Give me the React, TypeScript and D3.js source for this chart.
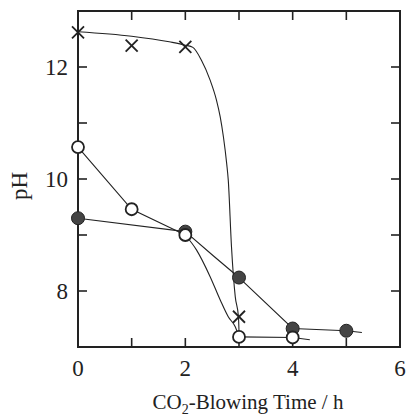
import React from "react";
import * as d3 from "d3";

// Marker data
const crossT = [0, 1, 2, 3];
const crossPH = [12.62, 12.38, 12.36, 7.54];
const openT = [0, 1, 2, 3, 4];
const openPH = [10.57, 9.46, 9.0, 7.18, 7.17];
const filledT = [0, 2, 3, 4, 5];
const filledPH = [9.3, 9.06, 8.24, 7.33, 7.29];

// Fitted guide curves
const crossCurveT = [0, 1, 1.7, 2.0, 2.14, 2.3, 2.46, 2.58, 2.65, 2.71, 2.77, 2.8, 2.86, 2.93, 2.99, 3.0];
const crossCurvePH = [12.63, 12.55, 12.45, 12.39, 12.35, 12.12, 11.77, 11.41, 11.11, 10.75, 10.28, 9.98, 8.79, 7.9, 7.54, 7.28];
const openHeadT = [0, 1, 2];
const openHeadPH = [10.57, 9.46, 9.0];
const openDropT = [2, 2.21, 2.46, 2.65, 2.8, 2.93, 3];
const openDropPH = [9.0, 8.73, 8.26, 7.84, 7.54, 7.36, 7.18];
const openTailT = [3, 4, 4.32];
const openTailPH = [7.18, 7.17, 7.13];
const filledHeadT = [0, 2];
const filledHeadPH = [9.3, 9.06];
const filledMidT = [2, 2.52, 3];
const filledMidPH = [9.06, 8.63, 8.24];
const filledTailT = [3, 4, 5, 5.29];
const filledTailPH = [8.24, 7.33, 7.29, 7.26];

const xTicks = [0, 1, 2, 3, 4, 5, 6];
const xLabels = [0, 2, 4, 6];
const yTicks = [7, 8, 9, 10, 11, 12, 13];
const yLabels = [8, 10, 12];

export default function App() {
  const x = d3.scaleLinear().domain([0, 6]).range([78, 400]);
  const y = d3.scaleLinear().domain([7, 13]).range([347, 11]);
  const smooth = d3
    .line<[number, number]>()
    .x((d) => x(d[0]))
    .y((d) => y(d[1]))
    .curve(d3.curveMonotoneX);
  const straight = d3
    .line<[number, number]>()
    .x((d) => x(d[0]))
    .y((d) => y(d[1]));
  const zip = (a: number[], b: number[]) => a.map((v, i) => [v, b[i]] as [number, number]);
  const font = "'Liberation Serif', 'Times New Roman', serif";
  const tl = 9;
  const [x0, x1] = x.range();
  const [y0, y1] = y.range();
  return (
    <svg width={406} height={417} style={{ position: "absolute", left: 0, top: 0, background: "#fff" }}>
      {/* curves */}
      <g fill="none" stroke="#222" strokeWidth={1.1}>
        <path d={smooth(zip(crossCurveT, crossCurvePH)) || ""} />
        <path d={straight(zip(openHeadT, openHeadPH)) || ""} />
        <path d={smooth(zip(openDropT, openDropPH)) || ""} />
        <path d={straight(zip(openTailT, openTailPH)) || ""} />
        <path d={straight(zip(filledHeadT, filledHeadPH)) || ""} />
        <path d={smooth(zip(filledMidT, filledMidPH)) || ""} />
        <path d={straight(zip(filledTailT, filledTailPH)) || ""} />
      </g>
      {/* ticks */}
      <g stroke="#222" strokeWidth={1.6}>
        {xTicks.slice(1, -1).map((t) => (
          <g key={"xt" + t}>
            <line x1={x(t)} x2={x(t)} y1={y0} y2={y0 - tl} />
            <line x1={x(t)} x2={x(t)} y1={y1} y2={y1 + tl} />
          </g>
        ))}
        {yTicks.slice(1, -1).map((t) => (
          <g key={"yt" + t}>
            <line x1={x0} x2={x0 + tl} y1={y(t)} y2={y(t)} />
            <line x1={x1} x2={x1 - tl} y1={y(t)} y2={y(t)} />
          </g>
        ))}
      </g>
      {/* frame */}
      <rect x={x0} y={y1} width={x1 - x0} height={y0 - y1} fill="none" stroke="#222" strokeWidth={2} />
      {/* markers */}
      <g>
        {filledT.map((t, i) => (
          <circle key={"f" + i} cx={x(t)} cy={y(filledPH[i])} r={6.5} fill="#444" stroke="#222" strokeWidth={1} />
        ))}
        {openT.map((t, i) => (
          <circle key={"o" + i} cx={x(t)} cy={y(openPH[i])} r={6} fill="#fff" stroke="#222" strokeWidth={1.8} />
        ))}
        {crossT.map((t, i) => {
          const cx = x(t);
          const cy = y(crossPH[i]);
          const s = 6;
          return (
            <g key={"c" + i} stroke="#222" strokeWidth={1.8}>
              <line x1={cx - s} y1={cy - s} x2={cx + s} y2={cy + s} />
              <line x1={cx - s} y1={cy + s} x2={cx + s} y2={cy - s} />
            </g>
          );
        })}
      </g>
      {/* labels */}
      <g fontFamily={font} fontSize={23} fill="#222">
        {xLabels.map((t) => (
          <text key={"xl" + t} x={x(t)} y={376} textAnchor="middle">
            {t}
          </text>
        ))}
        {yLabels.map((t) => (
          <text key={"yl" + t} x={68} y={y(t)} dy="0.35em" textAnchor="end">
            {t}
          </text>
        ))}
        <text transform={`translate(27,186) rotate(-90)`} textAnchor="middle">
          pH
        </text>
      </g>
      <text x={248} y={409} textAnchor="middle" fontFamily={font} fontSize={21} fill="#222">
        CO
        <tspan fontSize={14} dy={5}>2</tspan>
        <tspan dy={-5}>-Blowing Time / h</tspan>
      </text>
    </svg>
  );
}
